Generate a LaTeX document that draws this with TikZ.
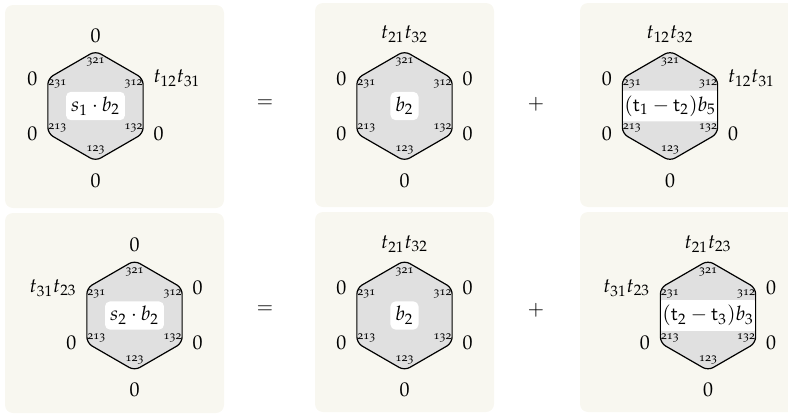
\documentclass[tikz,border=0pt]{standalone}
\usepackage[T1]{fontenc}
\usepackage[osf]{mathpazo}
\usepackage{tikz}
\usetikzlibrary{calc}
\definecolor{panelbg}{RGB}{248,247,240}

% one hexagon: name, centre, text in the middle
\newcommand{\hexcell}[3]{%
  \coordinate (#1) at (#2);
  \foreach \a/\p in {90/321,30/312,330/132,270/123,210/213,150/231}
    \coordinate (#1-\p) at ($(#1)+(\a:55)$);
  \fill[hexfill] (#1-321) -- (#1-312) -- (#1-132) -- (#1-123) -- (#1-213) -- (#1-231) -- cycle;
  \begin{scope}
    \clip[rounded corners=3pt] (#1-321) -- (#1-312) -- (#1-132) -- (#1-123) -- (#1-213) -- (#1-231) -- cycle;
    \node[cbox] (#1-c) at (#1) {#3};
  \end{scope}
  \draw[hexline] (#1-321) -- (#1-312) -- (#1-132) -- (#1-123) -- (#1-213) -- (#1-231) -- cycle;
  \foreach \a/\p in {90/321,30/312,330/132,270/123,210/213,150/231}
    \node[vlabel] (#1-v\p) at ($(#1)+(\a:44)$) {\p};
}

\begin{document}
\begin{tikzpicture}[
      x=0.5pt, y=0.5pt,
      panel/.style={fill=panelbg, rounded corners=4pt},
      hexfill/.style={fill=black!12, rounded corners=3pt},
      hexline/.style={draw=black, line width=0.6pt, rounded corners=3pt},
      cbox/.style={fill=white, rounded corners=2.5pt, inner sep=2.5pt},
      vlabel/.style={font=\fontsize{6}{6}\selectfont, inner sep=0pt},
      lab/.style={inner sep=3pt}
    ]
      \useasboundingbox (0,0) rectangle (788,414);

      % Panels
      \fill[panel] (5,206) rectangle (224,409);
      \fill[panel] (315,207) rectangle (494,411);
      \fill[panel] (580,207) rectangle (800,411);
      \fill[panel] (5,1) rectangle (224,201);
      \fill[panel] (315,2) rectangle (494,202);
      \fill[panel] (580,2) rectangle (800,202);

      % Top row: s_1 . b_2 = b_2 + (t_1 - t_2) b_5
      \hexcell{h1}{95.5,308}{$s_1\cdot b_2$}
      \node[lab, above=1pt] (h1-top) at (h1-321) {$0$};
      \node[lab, right=2pt] (h1-ur) at (h1-312) {$t_{12}t_{31}$};
      \node[lab, right=2pt] (h1-lr) at (h1-132) {$0$};
      \node[lab, below=3pt] (h1-bot) at (h1-123) {$0$};
      \node[lab, left=2pt] (h1-ll) at (h1-213) {$0$};
      \node[lab, left=2pt] (h1-ul) at (h1-231) {$0$};

      \node (eq1) at (265,310) {$=$};

      \hexcell{h2}{404.5,308}{$b_2$}
      \node[lab, above=1pt] (h2-top) at (h2-321) {$t_{21}t_{32}$};
      \node[lab, right=2pt] (h2-ur) at (h2-312) {$0$};
      \node[lab, right=2pt] (h2-lr) at (h2-132) {$0$};
      \node[lab, below=3pt] (h2-bot) at (h2-123) {$0$};
      \node[lab, left=2pt] (h2-ll) at (h2-213) {$0$};
      \node[lab, left=2pt] (h2-ul) at (h2-231) {$0$};

      \node (plus1) at (536,310) {$+$};

      \hexcell{h3}{670,308}{$(\mathsf{t}_1-\mathsf{t}_2)b_5$}
      \node[lab, above=1pt] (h3-top) at (h3-321) {$t_{12}t_{32}$};
      \node[lab, right=2pt] (h3-ur) at (h3-312) {$t_{12}t_{31}$};
      \node[lab, right=2pt] (h3-lr) at (h3-132) {$0$};
      \node[lab, below=3pt] (h3-bot) at (h3-123) {$0$};
      \node[lab, left=2pt] (h3-ll) at (h3-213) {$0$};
      \node[lab, left=2pt] (h3-ul) at (h3-231) {$0$};

      % Bottom row: s_2 . b_2 = b_2 + (t_2 - t_3) b_3
      \hexcell{h4}{134.5,98.5}{$s_2\cdot b_2$}
      \node[lab, above=1pt] (h4-top) at (h4-321) {$0$};
      \node[lab, right=2pt] (h4-ur) at (h4-312) {$0$};
      \node[lab, right=2pt] (h4-lr) at (h4-132) {$0$};
      \node[lab, below=3pt] (h4-bot) at (h4-123) {$0$};
      \node[lab, left=2pt] (h4-ll) at (h4-213) {$0$};
      \node[lab, left=2pt] (h4-ul) at (h4-231) {$t_{31}t_{23}$};

      \node (eq2) at (265,104) {$=$};

      \hexcell{h5}{404.5,98.5}{$b_2$}
      \node[lab, above=1pt] (h5-top) at (h5-321) {$t_{21}t_{32}$};
      \node[lab, right=2pt] (h5-ur) at (h5-312) {$0$};
      \node[lab, right=2pt] (h5-lr) at (h5-132) {$0$};
      \node[lab, below=3pt] (h5-bot) at (h5-123) {$0$};
      \node[lab, left=2pt] (h5-ll) at (h5-213) {$0$};
      \node[lab, left=2pt] (h5-ul) at (h5-231) {$0$};

      \node (plus2) at (536,104) {$+$};

      \hexcell{h6}{708,98.5}{$(\mathsf{t}_2-\mathsf{t}_3)b_3$}
      \node[lab, above=1pt] (h6-top) at (h6-321) {$t_{21}t_{23}$};
      \node[lab, right=2pt] (h6-ur) at (h6-312) {$0$};
      \node[lab, right=2pt] (h6-lr) at (h6-132) {$0$};
      \node[lab, below=3pt] (h6-bot) at (h6-123) {$0$};
      \node[lab, left=2pt] (h6-ll) at (h6-213) {$0$};
      \node[lab, left=2pt] (h6-ul) at (h6-231) {$t_{31}t_{23}$};

    \end{tikzpicture}
\end{document}
